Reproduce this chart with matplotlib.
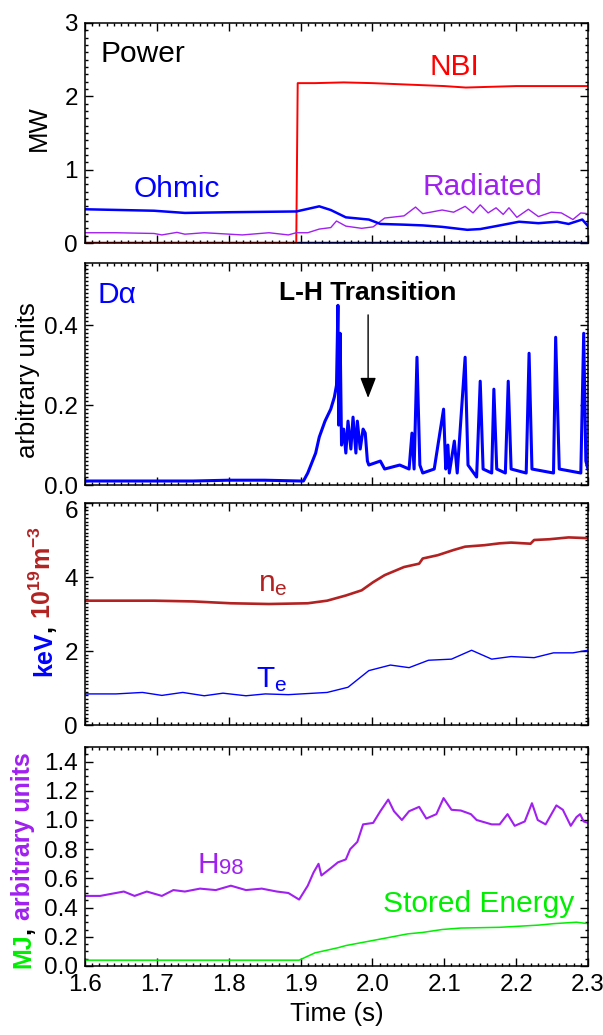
import numpy as np
import matplotlib
matplotlib.use("Agg")
import matplotlib.pyplot as plt
import matplotlib.transforms as mtransforms
from matplotlib.ticker import MultipleLocator, FormatStrFormatter

plt.rcParams['font.family'] = ['Liberation Sans', 'DejaVu Sans']
plt.rcParams['mathtext.fontset'] = 'custom'
plt.rcParams['mathtext.rm'] = 'Liberation Sans'
plt.rcParams['mathtext.bf'] = 'Liberation Sans:bold'
plt.rcParams['mathtext.it'] = 'Liberation Sans:italic'

# ---- data ----
# Power panel (MW)
nbi_t = [1.6, 1.894, 1.896, 1.92, 1.96, 2.0, 2.05, 2.1, 2.13, 2.2, 2.25, 2.3]
nbi_v = [0.0, 0.0, 2.18, 2.18, 2.19, 2.18, 2.16, 2.14, 2.12, 2.14, 2.14, 2.14]

ohm_t = [1.6, 1.696, 1.739, 1.803, 1.894, 1.926, 1.942, 1.963, 1.995, 2.011, 2.044,
         2.070, 2.097, 2.132, 2.150, 2.172, 2.204, 2.231, 2.257, 2.273, 2.292, 2.3]
ohm_v = [0.46, 0.44, 0.41, 0.42, 0.43, 0.50, 0.45, 0.35, 0.32, 0.26, 0.25,
         0.24, 0.22, 0.18, 0.19, 0.23, 0.29, 0.27, 0.29, 0.26, 0.32, 0.23]
ohm_floor_t = [1.6, 2.3]
ohm_floor_v = [0.0, 0.0]

rad_t = [1.6, 1.643, 1.696, 1.707, 1.728, 1.739, 1.766, 1.819, 1.856, 1.883, 1.894,
         1.910, 1.926, 1.942, 1.950, 1.963, 1.985, 2.001, 2.017, 2.044, 2.060, 2.070,
         2.097, 2.113, 2.129, 2.140, 2.150, 2.161, 2.172, 2.182, 2.190, 2.201, 2.217,
         2.231, 2.249, 2.263, 2.279, 2.290, 2.3]
rad_v = [0.14, 0.14, 0.13, 0.11, 0.145, 0.12, 0.14, 0.11, 0.14, 0.11, 0.14,
         0.14, 0.19, 0.21, 0.30, 0.23, 0.20, 0.22, 0.34, 0.37, 0.49, 0.40,
         0.45, 0.42, 0.50, 0.41, 0.52, 0.41, 0.48, 0.39, 0.48, 0.35, 0.46,
         0.36, 0.42, 0.41, 0.32, 0.41, 0.40]

# D-alpha (arbitrary units)
da_t = [1.6, 1.65, 1.7, 1.75, 1.8, 1.85, 1.9, 1.904, 1.91, 1.921, 1.926, 1.934, 1.942,
        1.947, 1.950, 1.952, 1.953, 1.955, 1.957, 1.960, 1.963, 1.966, 1.970, 1.973,
        1.977, 1.979, 1.983, 1.987, 1.990, 1.993, 1.995, 2.011, 2.017, 2.038, 2.051,
        2.055, 2.058, 2.062, 2.066, 2.070, 2.086, 2.099, 2.102, 2.105, 2.107, 2.114,
        2.118, 2.129, 2.133, 2.145, 2.150, 2.154, 2.166, 2.169, 2.173, 2.185, 2.189,
        2.193, 2.214, 2.218, 2.222, 2.252, 2.255, 2.260, 2.290, 2.294, 2.297, 2.3]
da_v = [0.01, 0.01, 0.01, 0.01, 0.012, 0.012, 0.01, 0.01, 0.03, 0.08, 0.12, 0.16, 0.19,
        0.22, 0.25, 0.45, 0.15, 0.38, 0.10, 0.14, 0.08, 0.16, 0.09, 0.17,
        0.08, 0.16, 0.09, 0.14, 0.13, 0.06, 0.05, 0.06, 0.04, 0.05, 0.04,
        0.13, 0.04, 0.32, 0.05, 0.03, 0.04, 0.19, 0.04, 0.10, 0.03, 0.11,
        0.03, 0.32, 0.05, 0.02, 0.26, 0.04, 0.03, 0.24, 0.04, 0.03, 0.26,
        0.04, 0.03, 0.33, 0.04, 0.03, 0.37, 0.04, 0.03, 0.38, 0.06, 0.04]

# density (10^19 m^-3) and temperature (keV)
ne_t = [1.6, 1.696, 1.75, 1.803, 1.856, 1.910, 1.937, 1.963, 1.985, 2.001, 2.017, 2.044,
        2.065, 2.070, 2.091, 2.113, 2.129, 2.156, 2.177, 2.193, 2.220, 2.225, 2.246,
        2.273, 2.3]
ne_v = [3.36, 3.36, 3.34, 3.29, 3.27, 3.29, 3.36, 3.50, 3.64, 3.86, 4.05, 4.27,
        4.36, 4.50, 4.59, 4.73, 4.82, 4.86, 4.91, 4.93, 4.90, 5.00, 5.02,
        5.07, 5.05]

te_t = [1.6, 1.643, 1.680, 1.707, 1.736, 1.766, 1.792, 1.824, 1.851, 1.883, 1.910,
        1.937, 1.966, 1.995, 2.025, 2.051, 2.078, 2.110, 2.138, 2.166, 2.193, 2.225,
        2.252, 2.279, 2.3]
te_v = [0.84, 0.84, 0.88, 0.80, 0.88, 0.79, 0.86, 0.79, 0.84, 0.82, 0.85,
        0.88, 1.02, 1.47, 1.62, 1.55, 1.75, 1.78, 2.02, 1.78, 1.85, 1.82,
        1.95, 1.95, 2.02]

# H98 (arbitrary units) and stored energy (MJ)
h98_t = [1.6, 1.621, 1.643, 1.654, 1.669, 1.686, 1.707, 1.723, 1.739, 1.760, 1.782,
         1.803, 1.824, 1.846, 1.867, 1.883, 1.898, 1.910, 1.918, 1.925, 1.929, 1.942,
         1.952, 1.963, 1.969, 1.979, 1.987, 2.001, 2.011, 2.022, 2.030, 2.041, 2.051,
         2.065, 2.075, 2.089, 2.099, 2.110, 2.123, 2.137, 2.145, 2.166, 2.177, 2.188,
         2.198, 2.212, 2.222, 2.230, 2.241, 2.256, 2.265, 2.276, 2.284, 2.289, 2.294,
         2.3]
h98_v = [0.48, 0.48, 0.50, 0.51, 0.48, 0.51, 0.48, 0.52, 0.51, 0.53, 0.52,
         0.55, 0.52, 0.53, 0.51, 0.50, 0.455, 0.55, 0.64, 0.70, 0.62, 0.67,
         0.71, 0.73, 0.80, 0.85, 0.97, 0.98, 1.06, 1.14, 1.06, 1.00, 1.06,
         1.09, 1.01, 1.04, 1.15, 1.07, 1.065, 1.04, 1.00, 0.97, 0.97, 1.04,
         0.96, 0.99, 1.115, 1.00, 0.97, 1.10, 1.07, 0.96, 1.02, 1.04, 0.99,
         0.98]

we_t = [1.6, 1.898, 1.920, 1.952, 1.963, 2.017, 2.049, 2.070, 2.097, 2.123, 2.177,
        2.231, 2.252, 2.284, 2.3]
we_v = [0.04, 0.04, 0.09, 0.125, 0.14, 0.19, 0.22, 0.23, 0.25, 0.26, 0.265,
        0.28, 0.29, 0.30, 0.29]

# ---- colours ----
RED = '#ff0000'
BLUE = '#0000ff'
PURPLE = '#a020f0'
BROWN = '#b22222'
GREEN = '#00ee00'

W, H = 603, 1035
fig = plt.figure(figsize=(W / 100, H / 100), dpi=100)

def add_panel(top, bottom):
    return fig.add_axes([85 / W, (H - bottom) / H, 503 / W, (bottom - top) / H])

ax1 = add_panel(23, 243)
ax2 = add_panel(263, 485)
ax3 = add_panel(503, 725)
ax4 = add_panel(747, 966)

TICK = 17.5
LAB = 21.5

for ax in (ax1, ax2, ax3, ax4):
    ax.set_xlim(1.6, 2.3)
    ax.xaxis.set_major_locator(MultipleLocator(0.1))
    ax.xaxis.set_minor_locator(MultipleLocator(0.01))
    ax.tick_params(which='both', direction='in', top=True, right=True, width=1,
                   labelsize=TICK)
    ax.tick_params(which='major', length=5.5)
    ax.tick_params(which='minor', length=2.5)
    ax.tick_params(axis='y', pad=5)
    ax.tick_params(axis='x', pad=6)
    for s in ax.spines.values():
        s.set_linewidth(1.1)
    if ax is not ax4:
        ax.tick_params(labelbottom=False)

# panel 1: power
ax1.plot(ohm_floor_t, ohm_floor_v, color=BLUE, lw=2.5)
ax1.plot(nbi_t, nbi_v, color=RED, lw=1.4)
ax1.plot(rad_t, rad_v, color=PURPLE, lw=1.0)
ax1.plot(ohm_t, ohm_v, color=BLUE, lw=1.8)
ax1.set_ylim(0, 3)
ax1.yaxis.set_major_locator(MultipleLocator(1))
ax1.yaxis.set_minor_locator(MultipleLocator(0.1))
ax1.yaxis.set_major_formatter(FormatStrFormatter('%d'))
ax1.text(1.622, 2.47, 'Power', fontsize=LAB, color='black', va='baseline')
ax1.text(2.079, 2.29, 'NBI', fontsize=LAB, color=RED, va='baseline')
ax1.text(1.667, 0.63, 'Ohmic', fontsize=LAB, color=BLUE, va='baseline')
ax1.text(2.070, 0.66, 'Radiated', fontsize=LAB, color=PURPLE, va='baseline')

# panel 2: D-alpha
ax2.plot(da_t, da_v, color=BLUE, lw=2.2)
ax2.set_ylim(0, 0.556)
ax2.yaxis.set_major_locator(MultipleLocator(0.2))
ax2.yaxis.set_minor_locator(MultipleLocator(0.01))
ax2.yaxis.set_major_formatter(FormatStrFormatter('%.1f'))
ax2.text(1.618, 0.455, 'D\u03b1', fontsize=LAB, color=BLUE, va='baseline')
ax2.text(1.994, 0.48, 'L-H Transition', fontsize=19, fontweight='bold',
         color='black', ha='center', va='center')
ax2.annotate('', xy=(1.994, 0.218), xytext=(1.994, 0.426),
             arrowprops=dict(arrowstyle='-|>,head_length=0.9,head_width=0.35',
                             mutation_scale=14, color='black', lw=1.0,
                             shrinkA=0, shrinkB=0))

# panel 3: ne and Te
ax3.plot(ne_t, ne_v, color=BROWN, lw=1.9)
ax3.plot(te_t, te_v, color=BLUE, lw=1.0)
ax3.set_ylim(0, 6)
ax3.yaxis.set_major_locator(MultipleLocator(2))
ax3.yaxis.set_minor_locator(MultipleLocator(0.1))
ax3.yaxis.set_major_formatter(FormatStrFormatter('%d'))
ax3.text(1.841, 3.62, r'n$_\mathrm{e}$', fontsize=LAB, color=BROWN, va='baseline')
ax3.text(1.838, 1.03, r'T$_\mathrm{e}$', fontsize=LAB, color=BLUE, va='baseline')

# panel 4: H98 and stored energy
ax4.plot(h98_t, h98_v, color=PURPLE, lw=1.5)
ax4.plot(we_t, we_v, color=GREEN, lw=1.1)
ax4.set_ylim(0, 1.5)
ax4.yaxis.set_major_locator(MultipleLocator(0.2))
ax4.yaxis.set_minor_locator(MultipleLocator(0.05))
ax4.yaxis.set_major_formatter(FormatStrFormatter('%.1f'))
ax4.xaxis.set_major_formatter(FormatStrFormatter('%.1f'))
ht = ax4.text(1.757, 0.64, 'H', fontsize=LAB, color=PURPLE, va='baseline')
ax4.annotate('98', xy=(1, 0), xycoords=ht, fontsize=16, color=PURPLE,
             va='bottom', ha='left')
ax4.text(2.015, 0.37, 'Stored Energy', fontsize=LAB, color=GREEN, va='baseline')
ax4.set_xlabel('Time (s)', fontsize=18.5, labelpad=4)

# nudge the two crowded tick labels apart, as in the reference
fig.canvas.draw()
lab_00 = ax2.yaxis.get_major_ticks()[0].label1
lab_00.set_transform(lab_00.get_transform() +
                     mtransforms.ScaledTranslation(0, 4 / 72, fig.dpi_scale_trans))
for tk in ax3.yaxis.get_major_ticks():
    if abs(tk.get_loc() - 6) < 1e-6:
        tk.label1.set_transform(tk.label1.get_transform() +
                                mtransforms.ScaledTranslation(0, -5 / 72, fig.dpi_scale_trans))

# ---- y labels (multi colour, stacked along the rotated baseline) ----
renderer = fig.canvas.get_renderer()

def stacked_label(x_px, yc_px, pieces, size, weight='normal'):
    texts, lengths = [], []
    for s, c in pieces:
        t = fig.text(0, 0, s, color=c, fontsize=size, fontweight=weight,
                     rotation=90, rotation_mode='anchor', ha='left', va='baseline')
        lengths.append(t.get_window_extent(renderer).height)
        texts.append(t)
    y = (H - yc_px) - sum(lengths) / 2
    for t, L in zip(texts, lengths):
        t.set_position((x_px / W, y / H))
        y += L

stacked_label(46, 128, [('MW', 'black')], 18.5)
stacked_label(35, 380, [('arbitrary units', 'black')], 18.5)
stacked_label(51, 601, [('keV', BLUE), (',', 'black'),
                        (r' $\mathbf{10^{19}m^{-3}}$', BROWN)], 18, 'bold')
stacked_label(30, 860, [('MJ', GREEN), (',', 'black'),
                        (' arbitrary units', PURPLE)], 18, 'bold')

fig.savefig('out.png', dpi=100)
